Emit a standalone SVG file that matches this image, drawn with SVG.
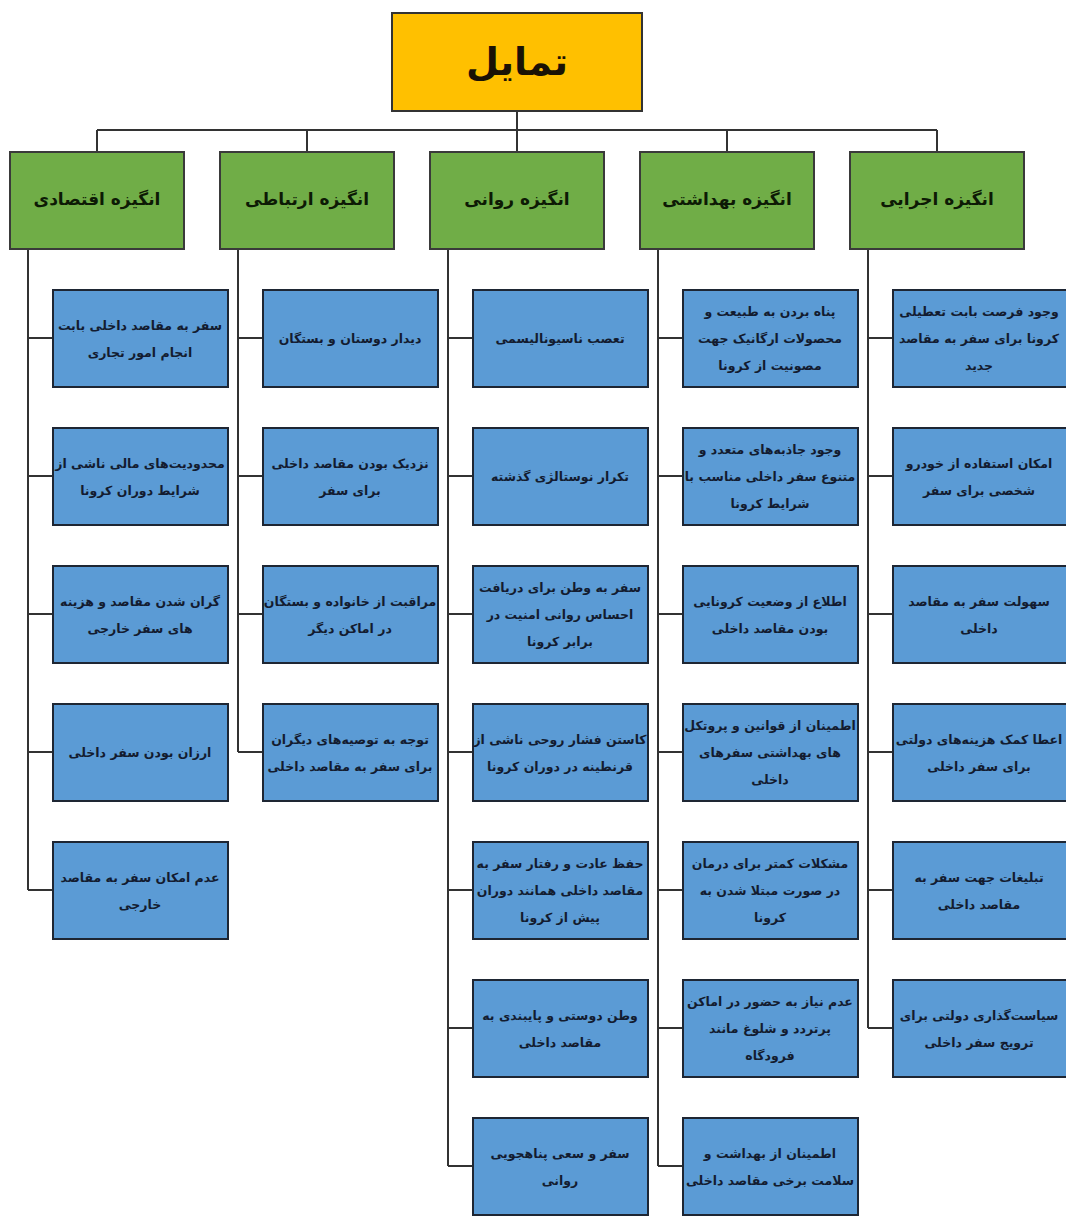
<svg xmlns="http://www.w3.org/2000/svg" width="1066" height="1216" viewBox="0 0 1066 1216">
<style>
.root{fill:#FFC000;stroke:#333;stroke-width:2}
.hd{fill:#70AD47;stroke:#3a3a3a;stroke-width:2}
.bx{fill:#5B9BD5;stroke:#1e2633;stroke-width:2}
.ln{fill:none;stroke:#333;stroke-width:2}
text{font-family:"DejaVu Sans","Noto Sans",sans-serif;text-anchor:middle;dominant-baseline:central;direction:rtl}
.rt{font-size:38px;font-weight:bold;fill:#1a1205}
.ht{font-size:17px;font-weight:bold;fill:#0d1a05}
.t{font-size:12.5px;font-weight:bold;fill:#131c30}
</style>
<g id="connectors">
<path class="ln" d="M517 111V130M97 130H937M97 130V152M307 130V152M517 130V152M727 130V152M937 130V152"/>
<path class="ln" d="M28 249V890M28 338H53M28 476H53M28 614H53M28 752H53M28 890H53"/>
<path class="ln" d="M238 249V752M238 338H263M238 476H263M238 614H263M238 752H263"/>
<path class="ln" d="M448 249V1166M448 338H473M448 476H473M448 614H473M448 752H473M448 890H473M448 1028H473M448 1166H473"/>
<path class="ln" d="M658 249V1166M658 338H683M658 476H683M658 614H683M658 752H683M658 890H683M658 1028H683M658 1166H683"/>
<path class="ln" d="M868 249V1028M868 338H893M868 476H893M868 614H893M868 752H893M868 890H893M868 1028H893"/>
</g>
<g id="root"><rect class="root" x="392" y="13" width="250" height="98"/><text class="rt" x="517" y="62">تمایل</text></g>
<g id="h1"><rect class="hd" x="850" y="152" width="174" height="97"/><text class="ht" x="937" y="199">انگیزه اجرایی</text></g>
<g id="h2"><rect class="hd" x="640" y="152" width="174" height="97"/><text class="ht" x="727" y="199">انگیزه بهداشتی</text></g>
<g id="h3"><rect class="hd" x="430" y="152" width="174" height="97"/><text class="ht" x="517" y="199">انگیزه روانی</text></g>
<g id="h4"><rect class="hd" x="220" y="152" width="174" height="97"/><text class="ht" x="307" y="199">انگیزه ارتباطی</text></g>
<g id="h5"><rect class="hd" x="10" y="152" width="174" height="97"/><text class="ht" x="97" y="199">انگیزه اقتصادی</text></g>

<g id="c1n1"><rect class="bx" x="893" y="290" width="175" height="97"/><text class="t"><tspan x="979" y="311">وجود فرصت بابت تعطیلی</tspan><tspan x="979" y="338">کرونا برای سفر به مقاصد</tspan><tspan x="979" y="365">جدید</tspan></text></g>
<g id="c1n2"><rect class="bx" x="893" y="428" width="175" height="97"/><text class="t"><tspan x="979" y="463">امکان استفاده از خودرو</tspan><tspan x="979" y="490">شخصی برای سفر</tspan></text></g>
<g id="c1n3"><rect class="bx" x="893" y="566" width="175" height="97"/><text class="t"><tspan x="979" y="601">سهولت سفر به مقاصد</tspan><tspan x="979" y="628">داخلی</tspan></text></g>
<g id="c1n4"><rect class="bx" x="893" y="704" width="175" height="97"/><text class="t"><tspan x="979" y="739">اعطا کمک هزینه‌های دولتی</tspan><tspan x="979" y="766">برای سفر داخلی</tspan></text></g>
<g id="c1n5"><rect class="bx" x="893" y="842" width="175" height="97"/><text class="t"><tspan x="979" y="877">تبلیغات جهت سفر به</tspan><tspan x="979" y="904">مقاصد داخلی</tspan></text></g>
<g id="c1n6"><rect class="bx" x="893" y="980" width="175" height="97"/><text class="t"><tspan x="979" y="1015">سیاست‌گذاری دولتی برای</tspan><tspan x="979" y="1042">ترویج سفر داخلی</tspan></text></g>

<g id="c2n1"><rect class="bx" x="683" y="290" width="175" height="97"/><text class="t"><tspan x="770" y="311">پناه بردن به طبیعت و</tspan><tspan x="770" y="338">محصولات ارگانیک جهت</tspan><tspan x="770" y="365">مصونیت از کرونا</tspan></text></g>
<g id="c2n2"><rect class="bx" x="683" y="428" width="175" height="97"/><text class="t"><tspan x="770" y="449">وجود جاذبه‌های متعدد و</tspan><tspan x="770" y="476">متنوع سفر داخلی مناسب با</tspan><tspan x="770" y="503">شرایط کرونا</tspan></text></g>
<g id="c2n3"><rect class="bx" x="683" y="566" width="175" height="97"/><text class="t"><tspan x="770" y="601">اطلاع از وضعیت کرونایی</tspan><tspan x="770" y="628">بودن مقاصد داخلی</tspan></text></g>
<g id="c2n4"><rect class="bx" x="683" y="704" width="175" height="97"/><text class="t"><tspan x="770" y="725">اطمینان از قوانین و پروتکل</tspan><tspan x="770" y="752">های بهداشتی سفرهای</tspan><tspan x="770" y="779">داخلی</tspan></text></g>
<g id="c2n5"><rect class="bx" x="683" y="842" width="175" height="97"/><text class="t"><tspan x="770" y="863">مشکلات کمتر برای درمان</tspan><tspan x="770" y="890">در صورت مبتلا شدن به</tspan><tspan x="770" y="917">کرونا</tspan></text></g>
<g id="c2n6"><rect class="bx" x="683" y="980" width="175" height="97"/><text class="t"><tspan x="770" y="1001">عدم نیاز به حضور در اماکن</tspan><tspan x="770" y="1028">پرتردد و شلوغ مانند</tspan><tspan x="770" y="1055">فرودگاه</tspan></text></g>
<g id="c2n7"><rect class="bx" x="683" y="1118" width="175" height="97"/><text class="t"><tspan x="770" y="1153">اطمینان از بهداشت و</tspan><tspan x="770" y="1180">سلامت برخی مقاصد داخلی</tspan></text></g>

<g id="c3n1"><rect class="bx" x="473" y="290" width="175" height="97"/><text class="t"><tspan x="560" y="338">تعصب ناسیونالیسمی</tspan></text></g>
<g id="c3n2"><rect class="bx" x="473" y="428" width="175" height="97"/><text class="t"><tspan x="560" y="476">تکرار نوستالژی گذشته</tspan></text></g>
<g id="c3n3"><rect class="bx" x="473" y="566" width="175" height="97"/><text class="t"><tspan x="560" y="587">سفر به وطن برای دریافت</tspan><tspan x="560" y="614">احساس روانی امنیت در</tspan><tspan x="560" y="641">برابر کرونا</tspan></text></g>
<g id="c3n4"><rect class="bx" x="473" y="704" width="175" height="97"/><text class="t"><tspan x="560" y="739">کاستن فشار روحی ناشی از</tspan><tspan x="560" y="766">قرنطینه در دوران کرونا</tspan></text></g>
<g id="c3n5"><rect class="bx" x="473" y="842" width="175" height="97"/><text class="t"><tspan x="560" y="863">حفظ عادت و رفتار سفر به</tspan><tspan x="560" y="890">مقاصد داخلی همانند دوران</tspan><tspan x="560" y="917">پیش از کرونا</tspan></text></g>
<g id="c3n6"><rect class="bx" x="473" y="980" width="175" height="97"/><text class="t"><tspan x="560" y="1015">وطن دوستی و پایبندی به</tspan><tspan x="560" y="1042">مقاصد داخلی</tspan></text></g>
<g id="c3n7"><rect class="bx" x="473" y="1118" width="175" height="97"/><text class="t"><tspan x="560" y="1153">سفر و سعی پناهجویی</tspan><tspan x="560" y="1180">روانی</tspan></text></g>

<g id="c4n1"><rect class="bx" x="263" y="290" width="175" height="97"/><text class="t"><tspan x="350" y="338">دیدار دوستان و بستگان</tspan></text></g>
<g id="c4n2"><rect class="bx" x="263" y="428" width="175" height="97"/><text class="t"><tspan x="350" y="463">نزدیک بودن مقاصد داخلی</tspan><tspan x="350" y="490">برای سفر</tspan></text></g>
<g id="c4n3"><rect class="bx" x="263" y="566" width="175" height="97"/><text class="t"><tspan x="350" y="601">مراقبت از خانواده و بستگان</tspan><tspan x="350" y="628">در اماکن دیگر</tspan></text></g>
<g id="c4n4"><rect class="bx" x="263" y="704" width="175" height="97"/><text class="t"><tspan x="350" y="739">توجه به توصیه‌های دیگران</tspan><tspan x="350" y="766">برای سفر به مقاصد داخلی</tspan></text></g>

<g id="c5n1"><rect class="bx" x="53" y="290" width="175" height="97"/><text class="t"><tspan x="140" y="325">سفر به مقاصد داخلی بابت</tspan><tspan x="140" y="352">انجام امور تجاری</tspan></text></g>
<g id="c5n2"><rect class="bx" x="53" y="428" width="175" height="97"/><text class="t"><tspan x="140" y="463">محدودیت‌های مالی ناشی از</tspan><tspan x="140" y="490">شرایط دوران کرونا</tspan></text></g>
<g id="c5n3"><rect class="bx" x="53" y="566" width="175" height="97"/><text class="t"><tspan x="140" y="601">گران شدن مقاصد و هزینه</tspan><tspan x="140" y="628">های سفر خارجی</tspan></text></g>
<g id="c5n4"><rect class="bx" x="53" y="704" width="175" height="97"/><text class="t"><tspan x="140" y="752">ارزان بودن سفر داخلی</tspan></text></g>
<g id="c5n5"><rect class="bx" x="53" y="842" width="175" height="97"/><text class="t"><tspan x="140" y="877">عدم امکان سفر به مقاصد</tspan><tspan x="140" y="904">خارجی</tspan></text></g>
</svg>
